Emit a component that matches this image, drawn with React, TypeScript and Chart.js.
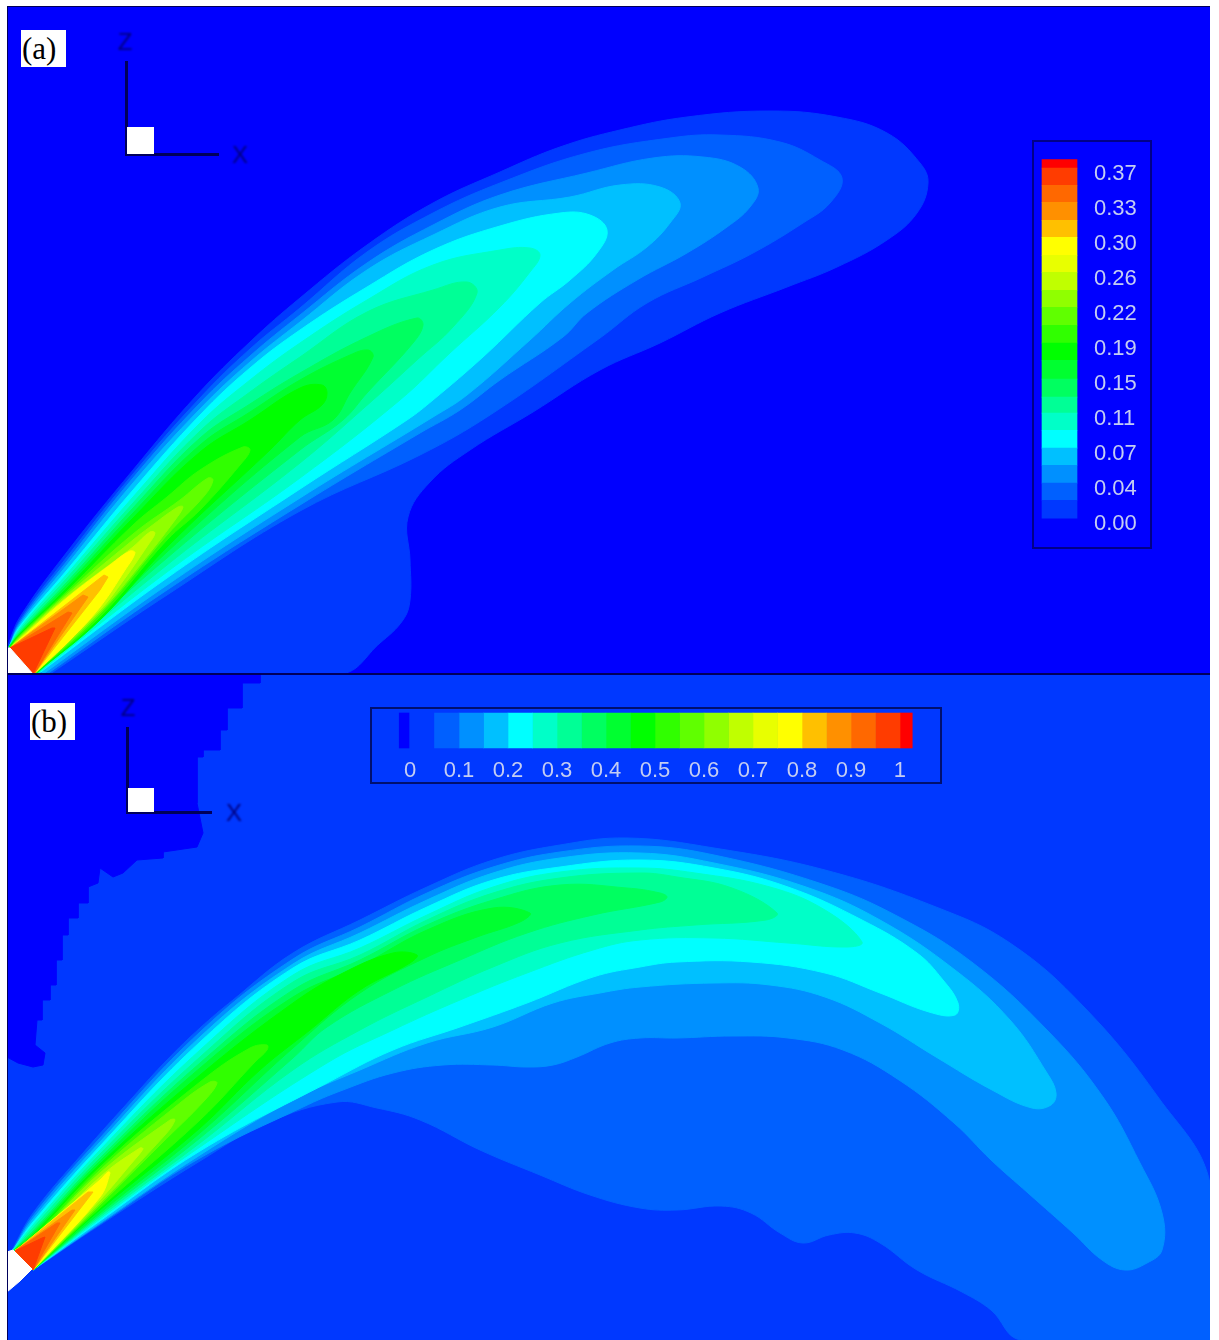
import React, { useEffect, useRef } from "react";
import Chart from "chart.js/auto";

type P = [number, number];

// Jet-like contour colours, lowest band first
const BAND_COLORS = ["#0038ff","#0060ff","#0090ff","#00c0ff","#00ffff","#00ffc8","#00ff96","#00ff60","#00ff30","#00ff00","#30ff00","#60ff00","#90ff00","#c0ff00","#e8ff00","#ffff00","#ffc000","#ff9000","#ff6800","#ff3c00","#ff0000"];

// Panel (a) contours, outermost first
const A_L1: P[] = [[8,645],[20,617],[67,552],[133,470],[197,395],[250,342],[300,298],[367,245],[433,203],[500,172],[560,147],[620,130],[687,117],[770,111],[837,117],[887,133],[920,163],[928,183],[917,213],[887,240],[837,267],[787,287],[720,313],[660,343],[600,370],[533,412],[470,450],[430,482],[408,517],[410,560],[410,600],[403,620],[380,643],[340,674],[8,674]];
const A_L2: P[] = [[9,647],[20,620],[67,557],[133,474],[200,398],[250,349],[300,308],[367,252],[433,213],[500,183],[587,153],[670,138],[720,135],[780,142],[820,160],[842,178],[830,203],[803,223],[753,253],[703,277],[647,303],[600,338],[490,415],[420,455],[300,511],[167,595],[50,674]];
const A_L3: P[] = [[9,647],[20,622],[67,561],[133,478],[200,403],[250,356],[300,315],[367,263],[433,225],[500,195],[587,173],[653,158],[703,157],[740,167],[758,188],[750,207],[727,227],[687,253],[637,280],[587,313],[563,337],[500,380],[460,410],[420,433],[300,505],[167,590],[47,674]];
const A_L4: P[] = [[9,647],[20,624],[67,565],[133,483],[200,409],[250,362],[300,322],[367,270],[433,235],[500,207],[570,197],[620,185],[660,187],[680,203],[670,223],[647,247],[613,270],[570,303],[530,340],[467,395],[433,417],[300,498],[167,585],[43,674]];
const A_L5: P[] = [[9,647],[20,626],[67,570],[133,490],[200,415],[250,368],[300,330],[367,287],[433,250],[500,226],[560,213],[590,215],[607,230],[597,253],[570,280],[540,303],[483,357],[433,400],[407,420],[300,489],[167,578],[38,674]];
const A_L6: P[] = [[9,647],[20,628],[67,574],[133,497],[200,423],[250,380],[300,343],[367,300],[433,265],[500,250],[530,248],[540,255],[530,272],[500,307],[450,353],[400,400],[300,478],[167,572],[37,674]];
const A_L7: P[] = [[9,647],[20,630],[67,578],[133,503],[200,431],[250,392],[300,357],[367,312],[433,290],[467,282],[477,293],[453,327],[417,360],[373,400],[300,463],[167,565],[36,674]];
const A_L8: P[] = [[9,647],[20,632],[67,582],[133,508],[200,438],[250,404],[300,373],[367,337],[417,318],[423,325],[413,343],[367,393],[343,420],[300,450],[167,558],[36,674]];
const A_L9: P[] = [[9,647],[20,633],[67,585],[133,513],[200,445],[250,412],[300,380],[350,355],[368,350],[373,357],[350,393],[333,420],[300,437],[167,552],[85,632],[35,674]];
const A_L10: P[] = [[9,647],[20,634],[67,588],[133,518],[200,452],[250,420],[300,388],[322,385],[327,393],[322,405],[300,420],[270,450],[167,547],[100,620],[35,674]];
const A_L11: P[] = [[10,648],[20,635],[67,591],[133,525],[167,497],[200,470],[243,447],[250,450],[240,465],[200,510],[167,540],[100,617],[34,674]];
const A_L12: P[] = [[10,648],[20,636],[67,593],[133,534],[180,500],[208,478],[213,480],[205,495],[167,535],[100,614],[34,674]];
const A_L13: P[] = [[10,648],[20,637],[67,595],[133,540],[150,527],[178,507],[183,507],[175,520],[140,565],[100,612],[34,674]];
const A_L14: P[] = [[10,648],[20,638],[67,597],[133,547],[150,532],[155,533],[148,545],[120,585],[100,610],[34,674]];
const A_L15: P[] = [[10,648],[67,598],[110,565],[130,551],[135,553],[125,570],[100,607],[70,640],[34,674]];
const A_L16: P[] = [[10,648],[104,575],[108,577],[100,590],[34,674]];
const A_L17: P[] = [[10,648],[83,595],[88,597],[34,674]];
const A_L18: P[] = [[10,648],[68,612],[72,613],[34,674]];
const A_L19: P[] = [[10,648],[52,628],[55,628],[33,674]];
const A_SOURCE: P[] = [[7,648],[10,648],[33,674],[7,674]];

// Panel (b) contours
const B_LOW: P[] = [[7,675],[260,675],[260,683],[242,683],[242,708],[227,708],[227,730],[220,730],[220,750],[203,750],[203,757],[197,757],[197,803],[203,833],[197,847],[163,852],[163,858],[137,860],[123,873],[113,877],[100,868],[98,883],[88,887],[88,903],[78,903],[78,918],[68,918],[68,935],[62,935],[62,960],[56,960],[56,985],[50,985],[50,1000],[42,1000],[42,1020],[37,1020],[35,1045],[45,1053],[43,1065],[33,1067],[18,1063],[7,1057]];
const B_L2: P[] = [[12,1250],[33,1213],[83,1153],[133,1097],[167,1060],[200,1028],[233,1000],[293,953],[360,920],[427,887],[493,860],[560,845],[627,838],[714,848],[825,870],[936,907],[1010,943],[1084,1007],[1158,1097],[1210,1183],[1212,1340],[1021,1340],[991,1310],[962,1292],[917,1270],[880,1243],[855,1233],[829,1235],[803,1243],[780,1233],[751,1213],[721,1206],[677,1210],[640,1208],[590,1195],[540,1175],[480,1150],[420,1120],[377,1108],[337,1102],[267,1123],[200,1161],[100,1225],[33,1270]];
const B_L3: P[] = [[13,1250],[33,1216],[100,1138],[200,1032],[293,959],[360,927],[427,893],[493,867],[560,852],[640,846],[714,855],[825,885],[899,917],[973,963],[1047,1030],[1103,1097],[1140,1163],[1162,1213],[1162,1250],[1147,1263],[1125,1270],[1102,1260],[1073,1233],[1028,1193],[991,1160],[954,1123],[899,1080],[843,1050],[788,1038],[732,1036],[677,1038],[640,1038],[610,1043],[577,1057],[553,1065],[527,1067],[493,1065],[443,1065],[393,1073],[343,1090],[303,1107],[200,1158],[100,1224],[33,1270]];
const B_L4: P[] = [[13,1250],[33,1219],[100,1142],[200,1037],[293,964],[360,933],[427,900],[493,873],[560,858],[640,853],[714,863],[806,887],[880,920],[955,970],[1010,1020],[1047,1073],[1056,1093],[1051,1105],[1032,1108],[992,1090],[936,1057],[880,1023],[825,997],[770,985],[714,983],[640,987],[600,993],[553,1003],[493,1027],[427,1043],[360,1070],[293,1100],[200,1155],[100,1223],[33,1270]];
const B_L5: P[] = [[13,1250],[33,1222],[100,1146],[200,1042],[293,968],[360,940],[427,907],[493,880],[560,867],[640,860],[714,868],[788,887],[862,920],[917,953],[943,980],[958,1003],[955,1015],[929,1012],[880,993],[825,973],[751,962],[677,962],[640,967],[593,977],[527,1003],[460,1027],[393,1050],[327,1083],[200,1151],[100,1221],[33,1270]];
const B_L6: P[] = [[13,1250],[33,1225],[100,1150],[200,1050],[293,975],[360,948],[427,915],[493,887],[560,872],[640,868],[695,873],[770,887],[825,910],[862,942],[847,947],[788,943],[714,938],[640,940],[593,950],[527,973],[460,1000],[393,1030],[327,1063],[200,1147],[100,1219],[33,1270]];
const B_L7: P[] = [[14,1250],[33,1228],[100,1154],[200,1057],[293,982],[360,955],[427,920],[493,893],[560,878],[640,873],[677,877],[732,888],[777,913],[766,920],[695,925],[640,930],[560,943],[493,967],[427,997],[360,1030],[293,1070],[200,1143],[100,1217],[33,1270]];
const B_L8: P[] = [[14,1250],[33,1231],[100,1158],[200,1063],[293,990],[360,960],[427,925],[493,900],[560,885],[627,888],[660,893],[667,897],[660,902],[593,915],[527,933],[460,960],[393,990],[327,1027],[293,1058],[200,1138],[100,1215],[33,1270]];
const B_L9: P[] = [[14,1250],[33,1233],[100,1161],[200,1068],[293,997],[360,966],[427,930],[493,908],[530,913],[520,922],[477,937],[427,957],[360,993],[293,1048],[200,1133],[100,1213],[33,1270]];
const B_L10: P[] = [[15,1250],[33,1235],[100,1164],[200,1075],[293,1003],[343,973],[393,953],[417,955],[410,963],[360,990],[310,1030],[260,1070],[200,1128],[100,1210],[33,1270]];
const B_L11: P[] = [[15,1250],[33,1237],[100,1167],[200,1082],[250,1048],[267,1045],[267,1050],[255,1062],[200,1120],[100,1208],[33,1270]];
const B_L12: P[] = [[15,1250],[33,1239],[100,1170],[175,1107],[210,1082],[217,1083],[205,1100],[160,1145],[100,1205],[33,1270]];
const B_L13: P[] = [[15,1250],[33,1240],[100,1173],[170,1120],[175,1120],[165,1135],[100,1203],[33,1270]];
const B_L14: P[] = [[15,1250],[33,1242],[100,1177],[140,1148],[143,1149],[130,1165],[100,1200],[33,1270]];
const B_L15: P[] = [[15,1251],[100,1180],[108,1172],[110,1173],[100,1197],[33,1270]];
const B_L16: P[] = [[15,1251],[88,1192],[93,1192],[33,1270]];
const B_L17: P[] = [[15,1251],[72,1210],[75,1210],[33,1270]];
const B_L18: P[] = [[15,1251],[57,1223],[60,1223],[33,1270]];
const B_L19: P[] = [[15,1251],[42,1238],[45,1237],[33,1270]];
const B_SOURCE: P[] = [[7,1252],[13,1250],[32,1269],[20,1281],[7,1292]];

// Colour bars
const LEGEND_A_EDGES = [0.004,0.023,0.041,0.06,0.078,0.097,0.115,0.132,0.151,0.171,0.189,0.208,0.227,0.245,0.264,0.282,0.301,0.319,0.338,0.356,0.374,0.383];
const LEGEND_A_TICKS = [-0.002,0.035,0.072,0.109,0.146,0.183,0.22,0.257,0.294,0.331,0.368];
const LEGEND_A_LABELS = ["0.00","0.04","0.07","0.11","0.15","0.19","0.22","0.26","0.30","0.33","0.37"];
const LEGEND_B_EDGES = [0.05,0.1,0.15,0.2,0.25,0.3,0.35,0.4,0.45,0.5,0.55,0.6,0.65,0.7,0.75,0.8,0.85,0.9,0.95,1,1.025];
const LEGEND_B_TICKS = [0,0.1,0.2,0.3,0.4,0.5,0.6,0.7,0.8,0.9,1];
const LEGEND_B_LABELS = ["0","0.1","0.2","0.3","0.4","0.5","0.6","0.7","0.8","0.9","1"];

const SMOOTH = 0.4;
const A_CONTOURS: [P[], string, number][] = [
  [A_L1, BAND_COLORS[0], SMOOTH],[A_L2, BAND_COLORS[1], SMOOTH],[A_L3, BAND_COLORS[2], SMOOTH],[A_L4, BAND_COLORS[3], SMOOTH],
  [A_L5, BAND_COLORS[4], SMOOTH],[A_L6, BAND_COLORS[5], SMOOTH],[A_L7, BAND_COLORS[6], SMOOTH],[A_L8, BAND_COLORS[7], SMOOTH],
  [A_L9, BAND_COLORS[8], SMOOTH],[A_L10, BAND_COLORS[9], SMOOTH],[A_L11, BAND_COLORS[10], SMOOTH],[A_L12, BAND_COLORS[11], SMOOTH],
  [A_L13, BAND_COLORS[12], SMOOTH],[A_L14, BAND_COLORS[13], SMOOTH],[A_L15, BAND_COLORS[15], SMOOTH],[A_L16, BAND_COLORS[16], 0],
  [A_L17, BAND_COLORS[17], 0],[A_L18, BAND_COLORS[18], 0],[A_L19, BAND_COLORS[19], 0],[A_SOURCE, "#ffffff", 0],
];
const B_CONTOURS: [P[], string, number][] = [
  [B_LOW, "#0000ff", 0],[B_L2, BAND_COLORS[1], SMOOTH],[B_L3, BAND_COLORS[2], SMOOTH],[B_L4, BAND_COLORS[3], SMOOTH],
  [B_L5, BAND_COLORS[4], SMOOTH],[B_L6, BAND_COLORS[5], SMOOTH],[B_L7, BAND_COLORS[6], SMOOTH],[B_L8, BAND_COLORS[7], SMOOTH],
  [B_L9, BAND_COLORS[8], SMOOTH],[B_L10, BAND_COLORS[9], SMOOTH],[B_L11, BAND_COLORS[10], SMOOTH],[B_L12, BAND_COLORS[11], SMOOTH],
  [B_L13, BAND_COLORS[12], SMOOTH],[B_L14, BAND_COLORS[13], SMOOTH],[B_L15, BAND_COLORS[15], SMOOTH],[B_L16, BAND_COLORS[16], 0],
  [B_L17, BAND_COLORS[17], 0],[B_L18, BAND_COLORS[18], 0],[B_L19, BAND_COLORS[19], 0],[B_SOURCE, "#ffffff", 0],
];

const contourChart = (canvas: HTMLCanvasElement, list: [P[], string, number][], x: [number, number], y: [number, number]) =>
  new Chart(canvas, {
    type: "scatter",
    data: {
      // the first dataset is painted last, so the innermost contour leads
      datasets: [...list].reverse().map(([pts, color, tension]) => ({
        data: pts.map(([px, py]) => ({ x: px, y: py })),
        showLine: true,
        fill: "shape",
        backgroundColor: color,
        borderColor: color,
        borderWidth: 1,
        pointRadius: 0,
        tension,
      })),
    } as any,
    options: {
      animation: false,
      responsive: false,
      devicePixelRatio: 1,
      layout: { padding: 0 },
      plugins: { legend: { display: false }, tooltip: { enabled: false } },
      scales: {
        x: { type: "linear", display: false, min: x[0], max: x[1] },
        y: { type: "linear", display: false, reverse: true, min: y[0], max: y[1] },
      },
    } as any,
  });

const TICK_FONT = { family: "'Liberation Sans'", size: 22 };
const TICK_COLOR = "#c4cdf2";

const barsFrom = (edges: number[], colors: string[]) =>
  edges.slice(0, -1).map((lo, i) => ({
    data: [[lo, edges[i + 1]]],
    backgroundColor: colors[i],
    grouped: false,
    barThickness: 35,
    borderWidth: 0,
  }));

const noMargins = (s: any) => { s.paddingTop = 0; s.paddingBottom = 0; s.paddingLeft = 0; s.paddingRight = 0; };

const verticalBar = (canvas: HTMLCanvasElement) =>
  new Chart(canvas, {
    type: "bar",
    data: { labels: ["c"], datasets: barsFrom(LEGEND_A_EDGES, BAND_COLORS) } as any,
    options: {
      animation: false,
      responsive: false,
      devicePixelRatio: 1,
      layout: { padding: 0 },
      plugins: { legend: { display: false }, tooltip: { enabled: false } },
      scales: {
        x: { display: false },
        y: {
          position: "right",
          min: -0.0275,
          max: 0.4038,
          grid: { display: false, drawTicks: false },
          border: { display: false },
          afterBuildTicks: (s: any) => { s.ticks = LEGEND_A_TICKS.map((value) => ({ value })); },
          afterFit: (s: any) => { s.width = 64; noMargins(s); },
          ticks: {
            autoSkip: false,
            padding: 7,
            color: TICK_COLOR,
            font: TICK_FONT,
            callback: (_v: any, i: number) => LEGEND_A_LABELS[i],
          },
        },
      },
    } as any,
  });

const horizontalBar = (canvas: HTMLCanvasElement) => {
  const datasets = barsFrom(LEGEND_B_EDGES, BAND_COLORS.slice(1));
  datasets.unshift({ data: [[-0.022, -0.002]], backgroundColor: "#0000ff", grouped: false, barThickness: 35, borderWidth: 0 });
  return new Chart(canvas, {
    type: "bar",
    data: { labels: ["c"], datasets } as any,
    options: {
      indexAxis: "y",
      animation: false,
      responsive: false,
      devicePixelRatio: 1,
      layout: { padding: 0 },
      plugins: { legend: { display: false }, tooltip: { enabled: false } },
      scales: {
        y: { display: false },
        x: {
          position: "bottom",
          min: -0.0796,
          max: 1.0837,
          grid: { display: false, drawTicks: false },
          border: { display: false },
          afterBuildTicks: (s: any) => { s.ticks = LEGEND_B_TICKS.map((value) => ({ value })); },
          afterFit: (s: any) => { s.height = 30; noMargins(s); },
          ticks: {
            autoSkip: false,
            maxRotation: 0,
            padding: 5,
            color: TICK_COLOR,
            font: TICK_FONT,
            callback: (_v: any, i: number) => LEGEND_B_LABELS[i],
          },
        },
      },
    } as any,
  });
};

const abs = (left: number, top: number, width: number, height: number, extra: React.CSSProperties = {}): React.CSSProperties => ({
  position: "absolute", left, top, width, height, boxSizing: "border-box", ...extra,
});
const NAVY = "#00005a";
const FRAME = "#000088";
const soft = "blur(0.6px)";
const letter: React.CSSProperties = { color: "#000080", font: "24px 'Liberation Sans'", textAlign: "center", lineHeight: "30px", filter: "blur(1px)" };

const Triad = ({ ox, oy, topY, endX, boxW, boxH, zx, zy, xx, xy }: any) => (
  <>
    <div style={abs(ox - 1, topY, 3, oy - topY + 2, { background: NAVY, filter: soft })} />
    <div style={abs(ox - 1, oy - 1, endX - ox, 3, { background: NAVY, filter: soft })} />
    <div style={abs(ox + 1, oy - boxH, boxW, boxH, { background: "#fff", filter: soft })} />
    <div style={abs(zx - 15, zy - 15, 30, 30, letter)}>Z</div>
    <div style={abs(xx - 15, xy - 15, 30, 30, letter)}>X</div>
  </>
);

const Tag = ({ x, y, w, h, text }: any) => (
  <div style={abs(x, y, w, h, { background: "#fff", color: "#000", font: "31px 'Liberation Serif'", lineHeight: `${h}px`, textAlign: "left", paddingLeft: 1 })}>{text}</div>
);

export default function App() {
  const a = useRef<HTMLCanvasElement>(null);
  const b = useRef<HTMLCanvasElement>(null);
  const la = useRef<HTMLCanvasElement>(null);
  const lb = useRef<HTMLCanvasElement>(null);

  useEffect(() => {
    const charts = [
      contourChart(a.current!, A_CONTOURS, [7, 1210], [6, 674]),
      contourChart(b.current!, B_CONTOURS, [7, 1210], [675, 1340]),
      verticalBar(la.current!),
      horizontalBar(lb.current!),
    ];
    return () => charts.forEach((c) => c.destroy());
  }, []);

  return (
    <div style={abs(0, 0, 1219, 1340, { background: "#fff", overflow: "hidden" })}>
      <canvas ref={a} width={1203} height={668} style={abs(7, 6, 1203, 668, { background: "#0000ff", filter: soft })} />
      <canvas ref={b} width={1203} height={665} style={abs(7, 675, 1203, 665, { background: BAND_COLORS[0], filter: soft })} />
      <div style={abs(7, 673, 1203, 2, { background: NAVY })} />
      <div style={abs(7, 6, 1, 1334, { background: NAVY })} />
      <div style={abs(7, 6, 1203, 1, { background: NAVY })} />

      <canvas ref={la} width={119} height={408} style={abs(1032, 140, 119, 408, { filter: soft })} />
      <div style={abs(1032, 140, 120, 409, { border: `2px solid ${FRAME}`, filter: soft })} />
      <canvas ref={lb} width={570} height={75} style={abs(371, 708, 570, 75, { filter: soft })} />
      <div style={abs(370, 707, 572, 77, { border: `2px solid #001070`, filter: soft })} />

      <Triad ox={126} oy={154} topY={61} endX={220} boxW={27} boxH={27} zx={125} zy={42} xx={240} xy={155} />
      <Triad ox={127} oy={812} topY={727} endX={213} boxW={26} boxH={24} zx={128} zy={708} xx={234} xy={813} />
      <Tag x={21} y={30} w={45} h={37} text="(a)" />
      <Tag x={30} y={703} w={45} h={37} text="(b)" />
    </div>
  );
}
